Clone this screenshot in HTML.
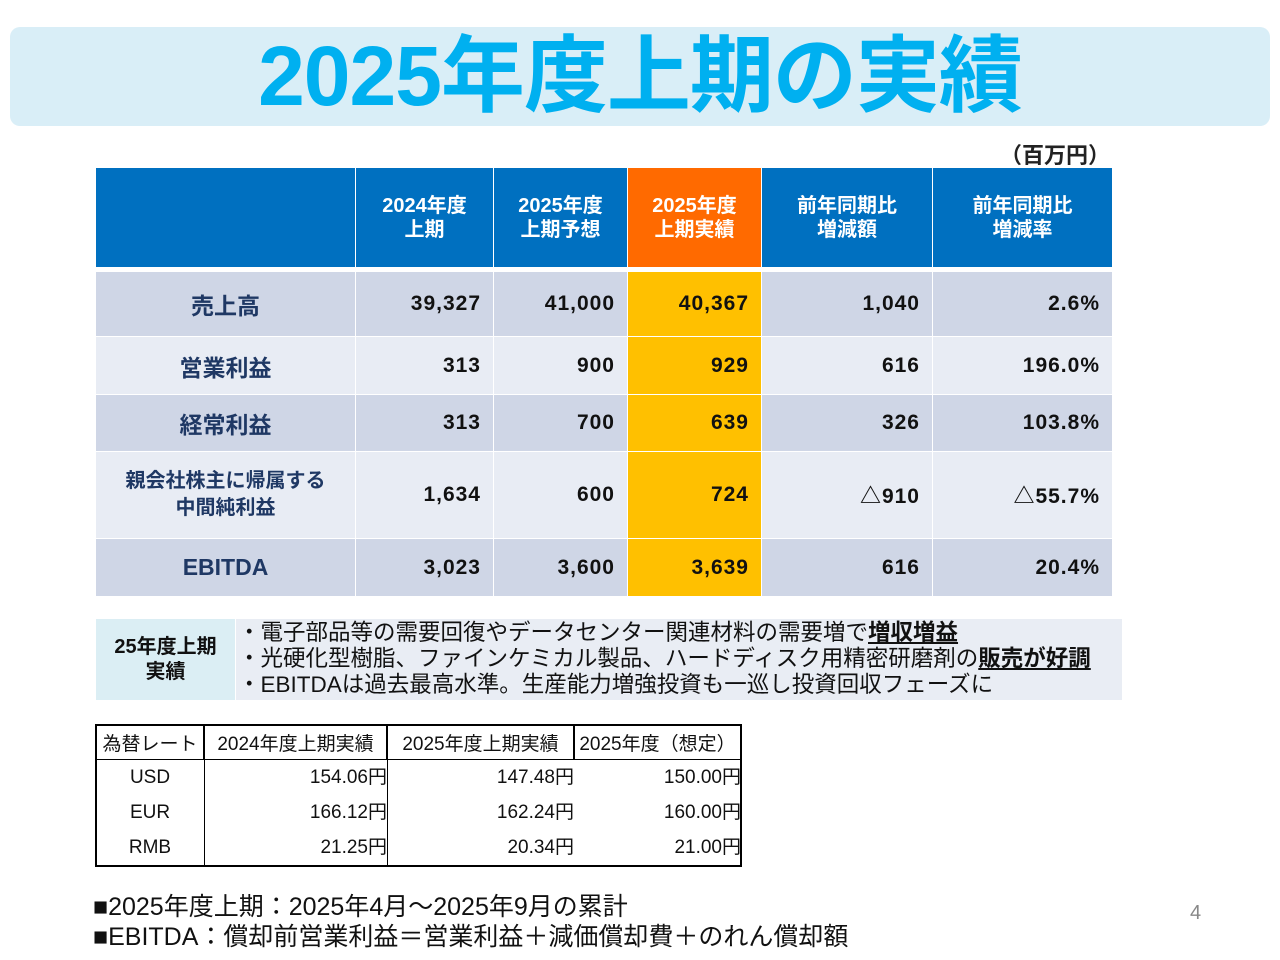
<!DOCTYPE html>
<html><head><meta charset="utf-8"><style>
*{margin:0;padding:0;box-sizing:border-box}
body{width:1280px;height:960px;background:#fff;position:relative;overflow:hidden;font-family:"Liberation Sans","Noto Sans CJK JP",sans-serif}
.a{position:absolute}
.c{position:absolute;display:flex;align-items:center;font-weight:bold}
.h{background:#0070c0;color:#fff;justify-content:center;text-align:center;font-size:20px;line-height:24px}
.n{justify-content:flex-end;padding-right:12px;font-size:21px;color:#111;letter-spacing:1px}
.l{justify-content:center;text-align:center;color:#1f3864;font-size:23px}
.f{position:absolute;display:flex;align-items:center;font-size:19px;color:#111;border:1px solid #000}
</style></head><body>
<div class="a" style="left:10px;top:27px;width:1260px;height:99px;background:#d9eef7;border-radius:10px"></div>
<div class="a" style="left:0;top:27px;width:1280px;height:99px;line-height:99px;text-align:center;font-size:84px;font-weight:bold;color:#00b0f0;letter-spacing:-1px">2025年度上期の実績</div>
<div class="a" style="left:1000px;top:138px;font-size:22px;font-weight:bold;color:#222">（百万円）</div>
<div id="tbl"></div>
<div class="c" style="left:96px;top:619px;width:139px;height:81px;background:#dbeef4;justify-content:center;text-align:center;font-size:20px;line-height:25px;color:#111">25年度上期<br>実績</div>
<div class="a" style="left:236px;top:619px;width:886px;height:81px;background:#e9edf4;padding:1px 0 0 2px;font-size:22.5px;line-height:26px;color:#111;white-space:nowrap">
<div>・電子部品等の需要回復やデータセンター関連材料の需要増で<b style="text-decoration:underline">増収増益</b></div>
<div>・光硬化型樹脂、ファインケミカル製品、ハードディスク用精密研磨剤の<b style="text-decoration:underline">販売が好調</b></div>
<div>・EBITDAは過去最高水準。生産能力増強投資も一巡し投資回収フェーズに</div></div>
<div id="fx"></div>
<div class="a" style="left:93px;top:887px;font-size:25px;color:#111;white-space:nowrap">■2025年度上期：2025年4月～2025年9月の累計</div>
<div class="a" style="left:93px;top:917px;font-size:25px;color:#111;white-space:nowrap">■EBITDA：償却前営業利益＝営業利益＋減価償却費＋のれん償却額</div>
<div class="a" style="left:1190px;top:902px;font-size:20px;color:#888">4</div>
<script>
const colX=[96,356,494,628,762,933,1113];
const headers=["","2024年度<br>上期","2025年度<br>上期予想","2025年度<br>上期実績","前年同期比<br>増減額","前年同期比<br>増減率"];
const rowLabels=["売上高","営業利益","経常利益","親会社株主に帰属する<br>中間純利益","EBITDA"];
const rowY=[272,337,395,452,539,597];
const values=[["39,327","41,000","40,367","1,040","2.6%"],["313","900","929","616","196.0%"],["313","700","639","326","103.8%"],["1,634","600","724","△910","△55.7%"],["3,023","3,600","3,639","616","20.4%"]];
const t=document.getElementById('tbl');
function cell(parent,cls,x,y,w,h,bg,html){const d=document.createElement('div');d.className=cls;d.style.cssText=`left:${x}px;top:${y}px;width:${w}px;height:${h}px;background:${bg}`;d.innerHTML=html;parent.appendChild(d);return d;}
for(let i=0;i<6;i++){const d=cell(t,'c h',colX[i],168,colX[i+1]-colX[i]-1,99,i==3?'#ff6a00':'#0070c0',headers[i]);

}
for(let r=0;r<5;r++){const bg=r%2==0?'#cfd6e6':'#e8ecf4';const h=rowY[r+1]-rowY[r]-1;
const d=cell(t,'c l',colX[0],rowY[r],colX[1]-colX[0]-1,h,bg,rowLabels[r]);
if(r==3){d.style.fontSize='20px';d.style.lineHeight='27px';}


for(let c=0;c<5;c++){const e=cell(t,'c n',colX[c+1],rowY[r],colX[c+2]-colX[c+1]-1,h,c==2?'#ffc000':bg,values[r][c]);

}}
const fxX=[96,204,387,574,741];
const fxY=[725,760,795,830,866];
const fxHead=["為替レート","2024年度上期実績","2025年度上期実績","2025年度（想定）"];
const fxCur=["USD","EUR","RMB"];
const fxVals=[["154.06円","147.48円","150.00円"],["166.12円","162.24円","160.00円"],["21.25円","20.34円","21.00円"]];
const f=document.getElementById('fx');
const box=document.createElement('div');box.className='a';box.style.cssText='left:95px;top:724px;width:647px;height:143px;border:2px solid #000';f.appendChild(box);


for(let i=0;i<4;i++){const d=cell(f,'f',fxX[i],fxY[0],fxX[i+1]-fxX[i],35,'transparent',fxHead[i]);d.style.justifyContent='center';d.style.borderWidth='1px';d.style.whiteSpace='nowrap';

}
for(let i=0;i<4;i++){const d=cell(f,'a',fxX[i],fxY[1],i==3?0:1,106,'#000','');

}
for(let r=0;r<3;r++){const d=document.createElement('div');d.className='a';d.style.cssText=`left:${fxX[0]}px;top:${fxY[r+1]}px;width:${fxX[1]-fxX[0]}px;height:35px;line-height:35px;text-align:center;font-size:19px;color:#111`;d.textContent=fxCur[r];f.appendChild(d);


for(let c=0;c<3;c++){const e=document.createElement('div');e.className='a';e.style.cssText=`left:${fxX[c+1]}px;top:${fxY[r+1]}px;width:${fxX[c+2]-fxX[c+1]}px;height:35px;line-height:35px;text-align:right;font-size:19px;color:#111`;e.textContent=fxVals[r][c];f.appendChild(e);

}}
</script>
</body></html>
